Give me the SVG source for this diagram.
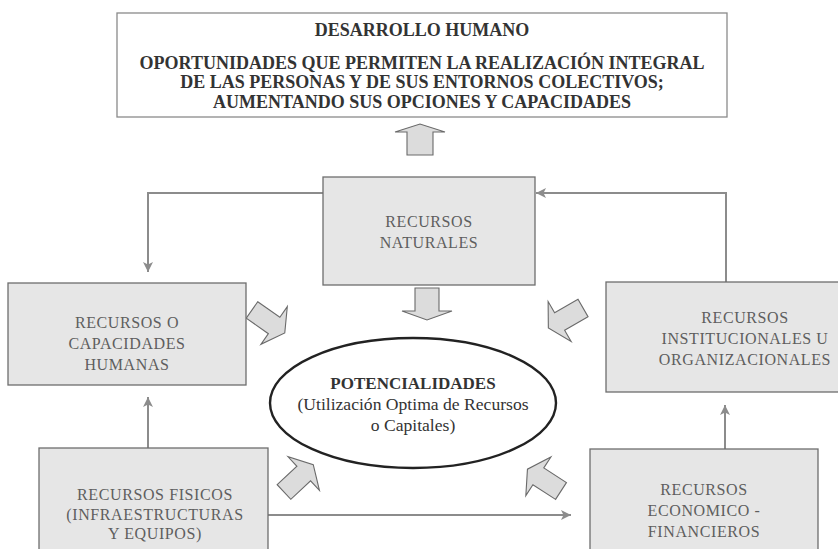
<svg xmlns="http://www.w3.org/2000/svg" width="838" height="549" viewBox="0 0 838 549">
<style>
.bg{fill:#ffffff}
.top{fill:#ffffff;stroke:#8a8a8a;stroke-width:1.3}
.box{fill:#e6e6e6;stroke:#6e6e6e;stroke-width:1.3}
.t-top{font-family:"Liberation Serif","Times New Roman",serif;font-weight:bold;font-size:18px;fill:#333333;text-anchor:middle}
.t-box{font-family:"Liberation Serif","Times New Roman",serif;font-size:16px;fill:#5e5e5e;text-anchor:middle;letter-spacing:0.6px}
.t-ell{font-family:"Liberation Serif","Times New Roman",serif;font-size:17.6px;fill:#333333;text-anchor:middle}
.t-ellb{font-family:"Liberation Serif","Times New Roman",serif;font-size:17px;font-weight:bold;fill:#333333;text-anchor:middle}
.ell{fill:#ffffff;stroke:#222222;stroke-width:2.4}
.fat{fill:#dcdcdc;stroke:#6a6a6a;stroke-width:1.1;stroke-linejoin:miter}
.conn{fill:none;stroke:#8c8c8c;stroke-width:2;marker-end:url(#ah)}
</style>
<defs>
<marker id="ah" viewBox="0 0 10 10" refX="10" refY="5" markerWidth="11" markerHeight="10" markerUnits="userSpaceOnUse" orient="auto">
<path d="M0,0 L10,5 L0,10 L2.5,5 Z" fill="#8c8c8c"/>
</marker>
<polygon id="fatArrow" points="0,-10 27,-10 27,-23 40,0 27,23 27,10 0,10"/>
</defs>
<rect class="bg" x="0" y="0" width="838" height="549"/>

<g id="connectors">
<path class="conn" d="M323,193 H148 V272"/>
<path class="conn" d="M726,282 V193 H536"/>
<path class="conn" d="M148,448 V397"/>
<path class="conn" d="M725,449 V405"/>
<path class="conn" d="M268,515 H571"/>
<polygon class="fat" points="407,155 407,132 395,132 420,124 445,132 433,132 433,155"/>
<polygon class="fat" points="415,288 439,288 439,311 452,311 427,320 402,311 415,311"/>
<use href="#fatArrow" class="fat" transform="translate(252,310) rotate(35)"/>
<use href="#fatArrow" class="fat" transform="translate(583,308) rotate(150)"/>
<use href="#fatArrow" class="fat" transform="translate(284,492) rotate(-43)"/>
<use href="#fatArrow" class="fat" transform="translate(561,491) rotate(-147)"/>
</g>

<g id="desarrollo-humano">
<rect class="top" x="117" y="13" width="610" height="104"/>
<text class="t-top" x="422" y="36">DESARROLLO HUMANO</text>
<text class="t-top" x="422" y="69">OPORTUNIDADES QUE PERMITEN LA REALIZACIÓN INTEGRAL</text>
<text class="t-top" x="422" y="88">DE LAS PERSONAS Y DE SUS ENTORNOS COLECTIVOS;</text>
<text class="t-top" x="422" y="108">AUMENTANDO SUS OPCIONES Y CAPACIDADES</text>
</g>

<g id="recursos-naturales">
<rect class="box" x="323" y="177" width="212" height="108"/>
<text class="t-box" x="429" y="227">RECURSOS</text>
<text class="t-box" x="429" y="248">NATURALES</text>
</g>

<g id="recursos-humanos">
<rect class="box" x="8" y="283" width="238" height="102"/>
<text class="t-box" x="127" y="328">RECURSOS  O</text>
<text class="t-box" x="127" y="349">CAPACIDADES</text>
<text class="t-box" x="127" y="370">HUMANAS</text>
</g>

<g id="recursos-institucionales">
<rect class="box" x="606" y="282" width="240" height="110"/>
<text class="t-box" x="745" y="323">RECURSOS</text>
<text class="t-box" x="745" y="344">INSTITUCIONALES U</text>
<text class="t-box" x="745" y="365">ORGANIZACIONALES</text>
</g>

<g id="potencialidades">
<ellipse class="ell" cx="413" cy="403" rx="143" ry="65"/>
<text class="t-ellb" x="413" y="389">POTENCIALIDADES</text>
<text class="t-ell" x="413" y="410">(Utilización Optima de Recursos</text>
<text class="t-ell" x="413" y="431">o Capitales)</text>
</g>

<g id="recursos-fisicos">
<rect class="box" x="39" y="448" width="229" height="110"/>
<text class="t-box" x="155" y="500">RECURSOS  FISICOS</text>
<text class="t-box" x="155" y="520">(INFRAESTRUCTURAS</text>
<text class="t-box" x="155" y="539">Y EQUIPOS)</text>
</g>

<g id="recursos-economicos">
<rect class="box" x="590" y="449" width="228" height="110"/>
<text class="t-box" x="704" y="495">RECURSOS</text>
<text class="t-box" x="704" y="516">ECONOMICO -</text>
<text class="t-box" x="704" y="537">FINANCIEROS</text>
</g>
</svg>
